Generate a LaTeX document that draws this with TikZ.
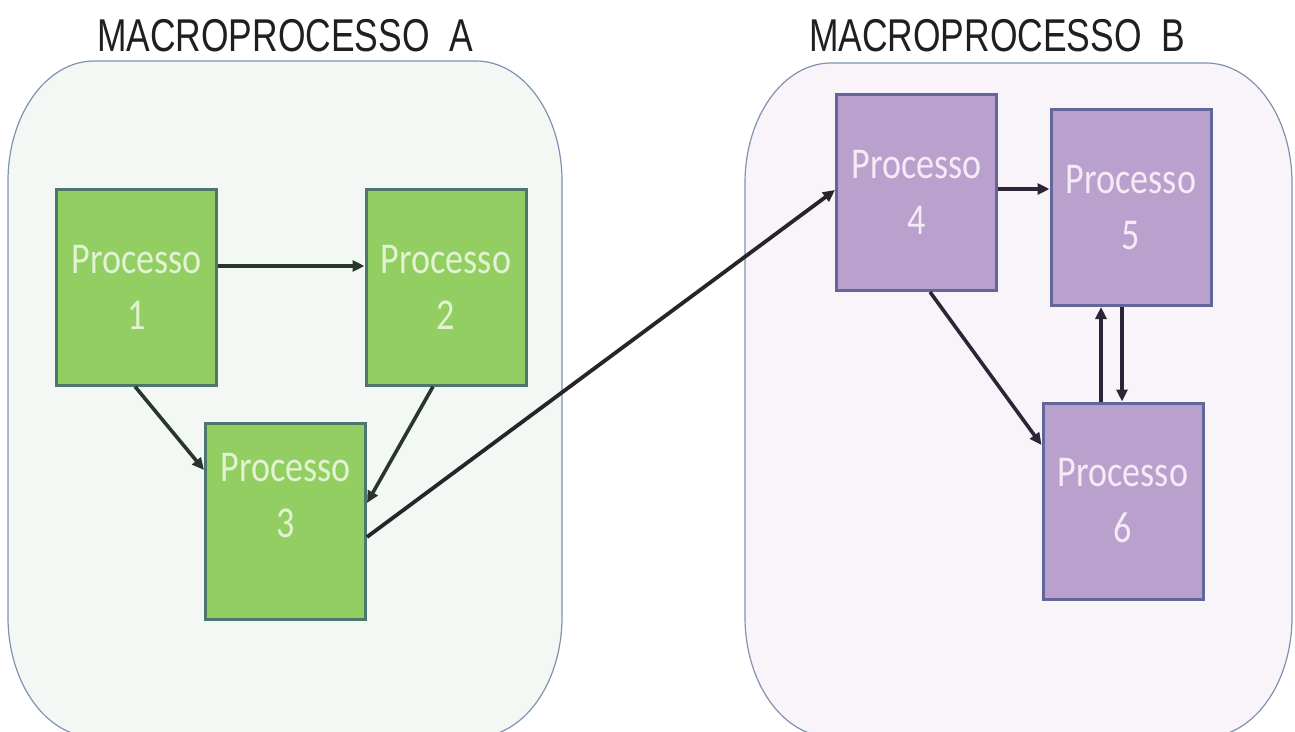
\documentclass[tikz,border=0pt]{standalone}
\usepackage{fontspec}
\usetikzlibrary{arrows.meta,calc}
\newfontfamily\boxfont[FakeStretch=0.82]{Carlito}
\newfontfamily\titlefont[FakeStretch=0.77]{Liberation Sans}

\definecolor{greenfill}{RGB}{146,206,98}
\definecolor{greenline}{RGB}{78,118,108}
\definecolor{greentext}{RGB}{226,243,212}
\definecolor{purplefill}{RGB}{186,160,204}
\definecolor{purpleline}{RGB}{98,102,152}
\definecolor{purpletext}{RGB}{246,234,247}
\definecolor{panelAfill}{RGB}{243,248,244}
\definecolor{panelBfill}{RGB}{248,244,249}
\definecolor{panelline}{RGB}{128,146,178}
\definecolor{arrowA}{RGB}{40,54,44}
\definecolor{arrowB}{RGB}{46,36,56}

\tikzset{
  panel/.style={line width=1.2pt, draw=panelline},
  title/.style={font=\titlefont\fontsize{46}{50}\selectfont, text=black!88, anchor=base, inner sep=0pt},
  procbox/.style={rectangle, line width=3pt, minimum width=160pt, minimum height=196pt,
                  inner sep=0pt, align=center, font=\boxfont\fontsize{44}{56}\selectfont},
  gbox/.style={procbox, fill=greenfill, draw=greenline, text=greentext},
  pbox/.style={procbox, fill=purplefill, draw=purpleline, text=purpletext},
  boxlabel/.style={align=center, inner sep=0pt, font=\boxfont\fontsize{44}{56}\selectfont},
  tip/.style={-{Triangle[length=12pt,width=11pt]}},
  flowA/.style={line width=3.6pt, draw=arrowA, tip},
  flowB/.style={line width=3.6pt, draw=arrowB, tip},
  link/.style={line width=3.8pt, draw=black!85, tip},
}

\begin{document}
\begin{tikzpicture}[x=1pt,y=-1pt]
\useasboundingbox (0,0) rectangle (1295,731);
\fill[white] (0,0) rectangle (1295,731);
\clip (0,0) rectangle (1295,731);

% macro-process panels
\path[panel, fill=panelAfill]
  (94,61) -- (476,61) .. controls (523.5,61) and (562,114.7) .. (562,181)
  -- (562,617) .. controls (562,683.3) and (523.5,737) .. (476,737)
  -- (94,737) .. controls (46.5,737) and (8,683.3) .. (8,617)
  -- (8,181) .. controls (8,114.7) and (46.5,61) .. (94,61) -- cycle;
\path[panel, fill=panelBfill]
  (831,63) -- (1206,63) .. controls (1253.5,63) and (1292,116.7) .. (1292,183)
  -- (1292,617) .. controls (1292,683.3) and (1253.5,737) .. (1206,737)
  -- (831,737) .. controls (783.5,737) and (745,683.3) .. (745,617)
  -- (745,183) .. controls (745,116.7) and (783.5,63) .. (831,63) -- cycle;

\node[title] (tA) at (285,51) {MACROPROCESSO\ \ A};
\node[title] (tB) at (997,51) {MACROPROCESSO\ \ B};

% processes of A
\node[gbox] (p1) at (136.5,287) {Processo\\1};
\node[gbox] (p2) at (446,287) {Processo\\2};
\node[gbox] (p3) at (285.5,521) {};
\node[boxlabel, text=greentext] (p3text) at ([yshift=25pt]p3.center) {Processo\\3};

% processes of B
\node[pbox] (p4) at (916.5,192.5) {Processo\\4};
\node[pbox] (p5) at (1131,207.5) {Processo\\5};
\node[pbox] (p6) at (1123,501) {Processo\\6};

% flows inside A
\draw[flowA] ([yshift=21pt]p1.east) -- ([yshift=21pt]p2.west);
\draw[flowA] ([xshift=-1.5pt]p1.south) -- ([yshift=51pt]p3.west);
\draw[flowA] ([xshift=-13pt]p2.south) -- ([yshift=18pt]p3.east);

% link from A to B
\draw[link] ([yshift=-16pt]p3.east) -- ([yshift=2.5pt]p4.west);

% flows inside B
\draw[flowB] ([yshift=3.5pt]p4.east) -- ([yshift=18.5pt]p5.west);
\draw[flowB] ([xshift=13.5pt]p4.south) -- ([yshift=56pt]p6.west);
\draw[flowB] ([xshift=-22pt]p6.north) -- ([xshift=-30pt]p5.south);
\draw[flowB] ([xshift=-9pt]p5.south) -- ([xshift=-1pt]p6.north);
\end{tikzpicture}
\end{document}
